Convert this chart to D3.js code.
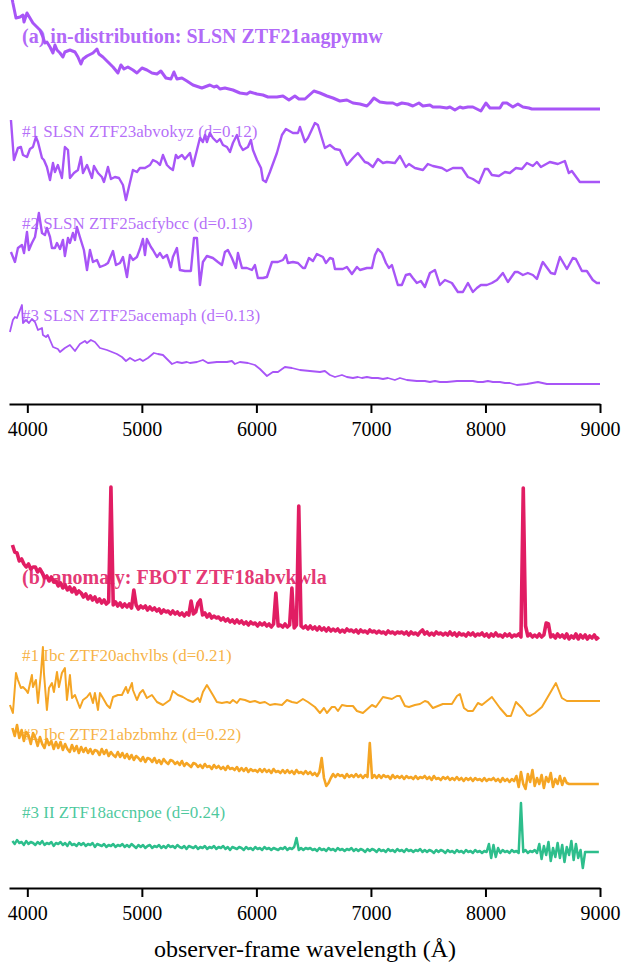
<!DOCTYPE html>
<html>
<head>
<meta charset="utf-8">
<script src="https://cdn.jsdelivr.net/npm/d3@7"></script>
<style>
  body { margin: 0; background: #fff; }
  svg text { font-family: "Liberation Serif", "Times New Roman", serif; }
</style>
</head>
<body>
<div id="chart"></div>
<script>
// flux values are normalised flux + offset (arbitrary units), wavelength in Å
const tickLabels = [4000, 5000, 6000, 7000, 8000, 9000];

// panel (a): in-distribution SLSN and its nearest neighbours
const queryA = [[3866,406],[3874,401],[3901,386],[3936,387],[3962,389],[3971,382],[3997,391],[4023,386],[4049,381],[4084,377],[4110,374],[4136,367],[4154,361],[4171,362],[4198,357],[4224,351],[4241,359],[4259,354],[4285,351],[4311,347],[4328,352],[4372,354],[4416,352],[4442,347],[4468,340],[4486,345],[4521,348],[4573,351],[4608,355],[4625,350],[4660,347],[4704,342],[4748,337],[4791,331],[4817,339],[4844,335],[4878,337],[4922,334],[4957,331],[5001,336],[5044,334],[5088,331],[5132,330],[5166,333],[5210,326],[5254,325],[5280,332],[5306,325],[5350,326],[5393,323],[5446,319],[5524,316],[5594,319],[5629,317],[5655,318],[5682,315],[5725,316],[5795,314],[5856,311],[5917,310],[5944,312],[6005,310],[6057,309],[6101,307],[6179,307],[6232,308],[6284,304],[6336,308],[6371,305],[6424,305],[6502,313],[6555,311],[6616,308],[6668,306],[6729,303],[6790,304],[6843,301],[6904,300],[6965,298],[6991,301],[7026,306],[7078,302],[7140,301],[7192,301],[7227,299],[7270,301],[7323,300],[7366,298],[7419,301],[7454,298],[7515,299],[7541,297],[7602,297],[7663,296],[7690,297],[7733,294],[7777,297],[7803,296],[7847,297],[7890,297],[7925,295],[7960,293],[8004,301],[8039,296],[8065,296],[8100,296],[8126,296],[8152,301],[8187,301],[8239,297],[8283,300],[8327,297],[8379,296],[8405,295],[9000,295]];

const neighbourA1 = [[3857,284],[3883,244],[3918,256],[3944,257],[3962,249],[3997,247],[4023,255],[4049,257],[4075,267],[4093,262],[4128,246],[4145,244],[4171,237],[4198,224],[4224,241],[4241,232],[4267,239],[4302,226],[4328,257],[4355,254],[4372,226],[4407,231],[4442,234],[4468,247],[4486,231],[4521,239],[4564,226],[4582,238],[4617,231],[4651,227],[4669,222],[4686,229],[4704,237],[4730,225],[4765,227],[4800,226],[4835,219],[4861,204],[4887,217],[4922,234],[4957,232],[4983,236],[5027,236],[5071,239],[5097,244],[5132,242],[5158,239],[5184,249],[5219,239],[5245,236],[5271,234],[5297,249],[5315,246],[5350,249],[5376,245],[5420,251],[5446,238],[5481,254],[5507,266],[5533,262],[5551,269],[5568,262],[5594,271],[5620,266],[5655,262],[5682,265],[5708,259],[5743,257],[5769,252],[5795,261],[5830,269],[5856,259],[5882,254],[5926,257],[5952,264],[5970,254],[6005,244],[6040,236],[6057,224],[6083,222],[6118,232],[6179,251],[6223,269],[6258,275],[6319,271],[6363,271],[6380,277],[6424,262],[6450,266],[6511,281],[6537,279],[6598,256],[6642,259],[6686,255],[6729,254],[6790,239],[6843,246],[6886,251],[6947,242],[6974,241],[7017,237],[7061,245],[7105,241],[7140,242],[7209,241],[7253,248],[7305,237],[7332,240],[7384,236],[7454,234],[7497,240],[7541,238],[7620,236],[7663,233],[7716,236],[7794,236],[7847,227],[7890,225],[7943,221],[7995,235],[8021,235],[8056,229],[8117,228],[8170,232],[8213,231],[8266,236],[8318,235],[8362,241],[8414,238],[8449,242],[8484,237],[8562,242],[8632,240],[8693,243],[8728,231],[8754,233],[8824,222],[9000,222]];

const neighbourA2 = [[3857,152],[3892,142],[3918,156],[3953,159],[3971,151],[3997,172],[4014,154],[4040,161],[4067,167],[4101,191],[4128,171],[4154,169],[4171,176],[4198,167],[4215,156],[4241,156],[4259,161],[4285,155],[4311,164],[4328,148],[4355,166],[4372,161],[4398,171],[4416,164],[4433,177],[4459,167],[4494,154],[4521,134],[4547,154],[4573,142],[4608,144],[4634,137],[4678,139],[4704,141],[4748,153],[4774,139],[4809,141],[4835,147],[4870,127],[4896,149],[4922,144],[4957,147],[4983,155],[5009,165],[5027,149],[5044,165],[5079,157],[5097,154],[5132,147],[5158,151],[5184,146],[5219,149],[5254,137],[5271,147],[5306,156],[5332,134],[5376,133],[5428,133],[5455,166],[5481,166],[5507,119],[5533,142],[5568,148],[5620,146],[5664,142],[5699,139],[5725,152],[5751,154],[5786,146],[5821,136],[5839,151],[5874,136],[5917,136],[5961,134],[5987,139],[6013,126],[6057,126],[6092,127],[6136,142],[6188,142],[6232,144],[6258,149],[6275,141],[6319,142],[6363,141],[6406,136],[6424,136],[6459,146],[6494,143],[6528,150],[6581,147],[6607,141],[6642,146],[6668,145],[6686,135],[6755,135],[6790,137],[6834,130],[6878,137],[6904,134],[6965,136],[7009,136],[7035,149],[7061,155],[7096,151],[7131,141],[7157,136],[7183,139],[7235,119],[7270,119],[7305,129],[7340,130],[7366,126],[7401,121],[7436,123],[7471,117],[7515,131],[7559,134],[7602,119],[7646,124],[7707,121],[7759,112],[7803,112],[7847,121],[7890,112],[7925,116],[7960,119],[8012,119],[8056,121],[8100,124],[8152,131],[8196,122],[8257,132],[8283,132],[8327,129],[8370,131],[8414,129],[8449,125],[8493,140],[8501,142],[8571,131],[8606,130],[8650,147],[8711,135],[8763,146],[8789,145],[8842,133],[8885,133],[8937,124],[8972,121],[9000,121]];

const neighbourA3 = [[3848,72],[3874,84],[3892,87],[3909,86],[3936,94],[3953,99],[3962,81],[3988,84],[4014,81],[4040,85],[4067,82],[4093,74],[4128,76],[4136,69],[4163,67],[4180,69],[4198,64],[4224,57],[4267,55],[4285,52],[4328,56],[4372,59],[4416,53],[4459,60],[4503,63],[4521,61],[4555,64],[4590,62],[4634,56],[4695,54],[4739,52],[4782,50],[4826,47],[4861,43],[4896,46],[4940,43],[4983,45],[5009,43],[5053,46],[5105,51],[5140,50],[5184,49],[5219,45],[5263,40],[5306,42],[5350,41],[5393,42],[5420,41],[5481,42],[5533,44],[5577,41],[5655,42],[5743,42],[5786,43],[5812,40],[5856,42],[5926,41],[5987,39],[6031,35],[6092,28],[6144,32],[6188,32],[6249,37],[6310,36],[6380,34],[6467,33],[6555,32],[6598,33],[6642,29],[6686,27],[6747,29],[6790,27],[6843,26],[6886,27],[6921,26],[6965,27],[7009,26],[7061,26],[7105,25],[7148,26],[7209,24],[7253,26],[7314,24],[7401,23],[7471,23],[7515,22],[7559,23],[7602,22],[7663,22],[7751,23],[7838,23],[7890,23],[7934,22],[7978,22],[8021,23],[8065,22],[8126,22],[8170,21],[8213,21],[8274,19],[8362,20],[8458,22],[8536,20],[8588,20],[9000,20]];

// panel (b): anomaly FBOT and its nearest neighbours (sampled every 20 Å)
const wlGrid = d3.range(3870, 9001, 20);
const queryB = [
  343,336,335,327,329,324,321,324,319,321,
  321,316,319,315,310,312,307,311,306,307,
  302,305,300,303,298,301,296,300,294,297,
  295,291,294,289,292,288,291,286,289,285,
  288,284,286,401,283,286,282,285,281,284,
  281,284,280,298,283,279,282,280,282,278,
  281,278,280,277,279,275,278,276,277,274,
  277,274,276,273,275,272,275,273,287,274,
  276,285,288,273,275,271,274,270,272,270,
  271,268,270,267,269,266,268,265,268,265,
  267,264,266,263,266,264,265,262,265,263,
  265,262,264,261,264,295,262,263,261,264,
  261,263,300,260,263,382,262,260,262,259,
  262,259,261,258,261,258,260,257,260,257,
  259,257,259,256,258,256,259,257,258,256,
  258,255,258,256,257,255,258,256,257,255,
  257,255,256,254,257,255,256,254,256,255,
  256,254,256,253,256,254,255,253,256,258,
  254,256,253,255,253,256,254,255,253,255,
  253,256,253,255,252,255,253,254,252,255,
  253,255,252,254,253,255,252,254,251,254,
  252,255,252,253,251,254,252,254,251,253,
  252,254,251,400,262,252,254,251,253,251,
  254,251,253,265,264,251,253,250,254,251,
  253,250,254,249,252,250,254,249,253,250,
  253,249,252,250,253,249,251];

const neighbourB1 = [[3848,183],[3874,175],[3901,215],[3918,208],[3944,200],[3962,201],[3988,198],[4005,195],[4040,213],[4049,201],[4075,208],[4093,185],[4119,215],[4136,241],[4145,215],[4171,178],[4189,200],[4215,205],[4232,196],[4259,216],[4276,201],[4302,215],[4328,220],[4346,188],[4372,213],[4390,190],[4416,193],[4459,180],[4486,188],[4521,191],[4547,195],[4573,185],[4590,195],[4617,178],[4634,195],[4660,190],[4695,183],[4721,180],[4748,191],[4791,193],[4826,193],[4861,201],[4878,195],[4913,205],[4922,198],[4957,188],[4983,195],[5009,198],[5044,190],[5088,193],[5132,186],[5184,183],[5245,188],[5271,197],[5315,193],[5358,191],[5402,188],[5446,186],[5490,190],[5507,186],[5533,196],[5568,203],[5594,198],[5620,193],[5655,186],[5699,185],[5743,186],[5769,185],[5795,188],[5830,185],[5856,189],[5900,188],[5944,186],[5987,187],[6031,185],[6074,186],[6118,183],[6162,184],[6223,183],[6267,188],[6310,186],[6354,185],[6406,189],[6450,186],[6511,181],[6555,175],[6590,180],[6616,175],[6659,181],[6686,181],[6712,177],[6747,183],[6790,182],[6843,182],[6878,177],[6930,175],[7009,183],[7043,181],[7105,191],[7183,189],[7227,192],[7253,192],[7297,182],[7332,181],[7384,183],[7428,184],[7471,187],[7497,186],[7541,180],[7628,184],[7707,184],[7751,192],[7777,194],[7812,180],[7847,177],[7890,177],[7934,185],[7969,183],[8056,191],[8126,180],[8187,172],[8222,172],[8266,186],[8318,180],[8362,173],[8388,172],[8432,175],[8493,181],[8615,205],[8667,190],[8711,187],[9000,187]];

const neighbourB2 = [
  160,152,163,150,158,147,156,153,144,155,
  150,142,151,144,140,149,143,147,139,146,
  140,146,138,144,139,136,143,137,142,135,
  141,136,140,135,139,134,138,137,133,139,
  134,138,132,136,133,131,136,131,135,130,
  134,129,133,128,132,130,127,131,126,130,
  129,126,130,125,128,124,129,126,124,128,
  127,124,126,123,127,122,125,123,121,125,
  124,121,123,120,124,121,122,119,123,120,
  122,119,121,118,122,119,120,118,121,117,
  120,117,120,116,119,117,118,116,119,116,
  119,116,118,115,119,116,117,115,118,115,
  118,115,117,114,118,115,116,114,117,114,
  116,113,115,112,116,130,110,102,105,110,
  114,111,114,112,113,110,114,111,113,111,
  114,111,113,110,113,111,145,110,113,110,
  113,110,113,111,112,109,113,110,112,110,
  112,109,112,110,111,109,112,109,111,110,
  112,109,111,108,112,109,110,108,111,109,
  111,108,110,108,111,108,110,107,110,108,
  110,107,110,108,109,107,110,107,109,108,
  110,107,109,106,110,107,109,106,109,107,
  112,101,116,104,99,114,106,118,102,110,
  104,113,100,111,106,115,101,109,104,112,
  103,110,105,104,104,104,104,104,104,104,
  104,104,104,104,104,104,104];

const neighbourB3 = [
  47,44,48,45,46,43,47,44,46,45,
  43,46,44,47,43,45,44,46,42,45,
  44,46,43,45,42,46,43,44,42,45,
  43,45,42,44,43,45,41,44,43,42,
  44,41,43,42,44,41,43,42,44,41,
  43,41,44,42,40,43,41,43,40,42,
  43,40,42,41,43,40,42,40,43,41,
  42,40,43,41,40,42,39,42,41,40,
  42,39,41,40,42,39,41,40,42,39,
  41,40,42,39,41,38,41,40,39,41,
  40,38,41,39,40,38,41,39,40,38,
  41,39,40,38,40,39,38,40,39,41,
  38,40,39,41,50,38,40,38,40,39,
  40,38,39,37,40,38,39,37,40,38,
  39,37,40,38,39,37,39,38,40,37,
  39,37,39,38,36,39,37,39,38,36,
  39,37,38,36,39,37,38,36,39,37,
  38,36,39,37,38,36,38,37,39,36,
  38,36,38,37,35,38,36,38,37,35,
  38,36,37,35,38,36,37,35,38,36,
  37,35,38,36,37,35,37,36,44,30,
  43,31,40,35,38,36,37,35,38,36,
  37,35,85,36,38,35,37,36,38,35,
  44,29,42,33,46,27,40,31,45,30,
  43,26,41,33,47,28,44,30,38,20,
  36,36,36,36,36,36,36];

const titles = ['(a) in-distribution: SLSN ZTF21aagpymw', '(b) anomaly: FBOT ZTF18abvkwla'];
const labelsA = ['#1 SLSN ZTF23abvokyz (d=0.12)', '#2 SLSN ZTF25acfybcc (d=0.13)', '#3 SLSN ZTF25acemaph (d=0.13)'];
const labelsB = ['#1 Ibc ZTF20achvlbs (d=0.21)', '#2 Ibc ZTF21abzbmhz (d=0.22)', '#3 II ZTF18accnpoe (d=0.24)'];

const onGrid = arr => wlGrid.map((w, i) => [w, arr[i]]).filter(d => d[1] != null);

const purple = '#a855f7', pink = '#e11d63', orange = '#f5a524', teal = '#2dbe8c';

const svg = d3.select('#chart').append('svg').attr('width', 623).attr('height', 972);
const x = d3.scaleLinear().domain([3840, 9000]).range([9, 600]);

const panels = [
  {
    base: 404, title: titles[0], titleY: 43, color: purple,
    spectra: [
      {data: queryA, color: purple, w: 3},
      {data: neighbourA1, color: purple, w: 2.4},
      {data: neighbourA2, color: purple, w: 2.4},
      {data: neighbourA3, color: purple, w: 1.8}
    ],
    labels: [[labelsA[0], 137, purple], [labelsA[1], 229, purple], [labelsA[2], 321, purple]]
  },
  {
    base: 888, title: titles[1], titleY: 584, color: pink,
    spectra: [
      {data: onGrid(queryB), color: pink, w: 3.6},
      {data: neighbourB1, color: orange, w: 2},
      {data: onGrid(neighbourB2), color: orange, w: 2.6},
      {data: onGrid(neighbourB3), color: teal, w: 2.5}
    ],
    labels: [[labelsB[0], 661, orange], [labelsB[1], 740, orange], [labelsB[2], 818, teal]]
  }
];

panels.forEach(p => {
  const y = d3.scaleLinear().domain([0, 400]).range([p.base, p.base - 400]);
  const g = svg.append('g');

  g.append('text')
    .attr('x', 22).attr('y', p.titleY)
    .attr('fill', p.color).attr('fill-opacity', 0.9)
    .attr('font-size', 20).attr('font-weight', 'bold')
    .text(p.title);

  g.selectAll('text.lab').data(p.labels).enter().append('text')
    .attr('class', 'lab')
    .attr('x', 22).attr('y', d => d[1])
    .attr('fill', d => d[2]).attr('fill-opacity', 0.85)
    .attr('font-size', 17)
    .text(d => d[0]);

  const line = d3.line().x(d => x(d[0])).y(d => y(d[1]));
  g.selectAll('path.spec').data(p.spectra).enter().append('path')
    .attr('class', 'spec')
    .attr('d', d => line(d.data))
    .attr('fill', 'none')
    .attr('stroke', d => d.color)
    .attr('stroke-width', d => d.w)
    .attr('stroke-linejoin', 'round');

  const axis = svg.append('g')
    .attr('transform', `translate(0,${p.base})`)
    .call(d3.axisBottom(x).tickValues(tickLabels).tickFormat(d3.format('d'))
      .tickSize(9).tickSizeOuter(0).tickPadding(9));
  axis.select('.domain').attr('stroke', '#000').attr('stroke-width', 2);
  axis.selectAll('.tick line').attr('stroke', '#000').attr('stroke-width', 2);
  axis.selectAll('.tick text').attr('font-size', 20).attr('fill', '#000')
    .attr('font-family', '"Liberation Serif", "Times New Roman", serif');
});

svg.append('text')
  .attr('x', 305).attr('y', 957)
  .attr('text-anchor', 'middle')
  .attr('font-size', 24)
  .attr('fill', '#000')
  .text('observer-frame wavelength (Å)');
</script>
</body>
</html>
